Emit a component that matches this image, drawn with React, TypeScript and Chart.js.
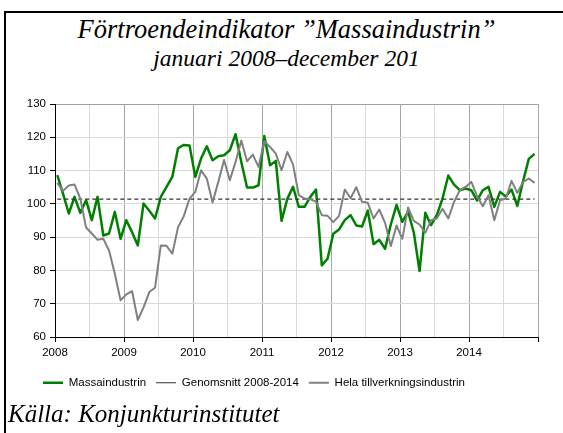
import React, { useEffect, useRef } from 'react';
import { Chart, registerables } from 'chart.js';

Chart.register(...registerables);

// ---- Data (monthly, January 2008 – December 2014) ----
const yearLabels = ['2008', '2009', '2010', '2011', '2012', '2013', '2014'];

const massaindustrin = [
  108.6, 103.0, 97.1, 102.1, 97.3, 101.1, 95.1, 102.1, 90.5, 91.1, 97.6, 89.5,
  95.1, 91.5, 87.5, 100.1, 97.9, 95.6, 102.1, 105.1, 108.1, 116.7, 117.7, 117.5,
  108.1, 113.6, 117.3, 113.1, 114.3, 114.6, 116.1, 120.9, 112.6, 104.9, 104.9, 105.6,
  120.4, 111.6, 112.9, 94.9, 101.5, 105.1, 99.1, 99.1, 102.1, 104.3, 81.5, 83.5,
  91.0, 92.3, 95.1, 96.6, 93.5, 93.2, 98.0, 87.9, 89.2, 86.5, 93.8, 99.7,
  94.6, 97.7, 91.4, 79.8, 97.3, 93.6, 96.6, 101.6, 108.5, 105.8, 104.1, 104.6,
  104.1, 101.0, 104.1, 105.1, 99.1, 103.6, 102.2, 104.3, 99.4, 106.8, 113.5, 115.0,
];

const helaTillverkningsindustrin = [
  106.3, 103.9, 105.5, 105.8, 101.6, 92.9, 91.1, 89.2, 89.5, 86.0, 79.0, 71.0,
  72.8, 73.8, 65.1, 68.9, 73.5, 74.8, 87.5, 87.4, 85.0, 93.0, 96.3, 101.6,
  103.6, 110.1, 107.6, 100.4, 106.6, 113.2, 107.1, 112.6, 119.0, 112.8, 114.8, 111.1,
  118.8, 117.1, 115.1, 110.1, 115.6, 111.8, 102.6, 101.6, 101.4, 100.6, 96.6, 96.4,
  94.5, 96.4, 104.3, 101.7, 105.0, 100.6, 100.3, 95.6, 98.3, 94.3, 87.3, 93.5,
  89.5, 98.9, 94.9, 93.8, 91.3, 95.1, 95.6, 98.5, 95.6, 100.6, 104.1, 105.1,
  106.6, 102.3, 99.3, 102.6, 95.1, 101.1, 101.6, 106.9, 103.3, 106.6, 107.6, 106.3,
];

const genomsnitt = 101.4; // Genomsnitt 2008-2014

const yMin = 60;
const yMax = 130;
const yStep = 10;

const seriesLabels = ['Massaindustrin', 'Genomsnitt 2008-2014', 'Hela tillverkningsindustrin'];

// Moves the (start-aligned) legend so that it begins at a chosen x position.
const legendShift = {
  id: 'legendShift',
  afterLayout(chart: any, _args: any, opts: any) {
    const lg = chart.legend;
    if (!lg) return;
    const w = lg.right - lg.left;
    lg.left = opts.left;
    lg.right = opts.left + w;
  },
};

export default function App() {
  const canvasRef = useRef<HTMLCanvasElement | null>(null);

  useEffect(() => {
    const canvas = canvasRef.current;
    if (!canvas) return;
    const monthOffset = 0.4;
    const toPoints = (arr: number[]) => arr.map((v, i) => ({ x: i + monthOffset, y: v }));
    const nMonths = massaindustrin.length;
    const axisFont = { family: "'Liberation Sans', Arial, sans-serif", size: 11.5 };

    const chart = new Chart(canvas, {
      type: 'line',
      plugins: [legendShift],
      data: {
        datasets: [
          {
            label: seriesLabels[0],
            data: toPoints(massaindustrin),
            borderColor: '#008000',
            backgroundColor: '#008000',
            borderWidth: 2.5,
            pointRadius: 0,
            borderJoinStyle: 'round',
            fill: false,
            order: 3,
          },
          {
            label: seriesLabels[1],
            data: [
              { x: monthOffset, y: genomsnitt },
              { x: nMonths - 1 + monthOffset, y: genomsnitt },
            ],
            borderColor: '#303030',
            backgroundColor: '#303030',
            borderWidth: 1.2,
            borderDash: [4, 3],
            pointRadius: 0,
            fill: false,
            order: 2,
          },
          {
            label: seriesLabels[2],
            data: toPoints(helaTillverkningsindustrin),
            borderColor: '#808080',
            backgroundColor: '#808080',
            borderWidth: 2,
            pointRadius: 0,
            borderJoinStyle: 'round',
            fill: false,
            order: 1,
          },
        ],
      },
      options: {
        animation: false,
        responsive: false,
        maintainAspectRatio: false,
        layout: { padding: { left: 20, top: 104, right: 25, bottom: 34.5 } },
        plugins: {
          title: { display: false },
          tooltip: { enabled: false },
          legendShift: { left: 33 },
          legend: {
            position: 'bottom',
            align: 'start',
            labels: {
              usePointStyle: true,
              pointStyle: 'line',
              pointStyleWidth: 20,
              padding: 10,
              color: '#000',
              font: axisFont,
              sort: (a: any, b: any) => a.datasetIndex - b.datasetIndex,
            },
          },
        },
        scales: {
          x: {
            type: 'linear',
            min: 0,
            max: nMonths,
            afterFit: (s: any) => {
              s.height = 30;
            },
            ticks: {
              stepSize: 6,
              autoSkip: false,
              maxRotation: 0,
              padding: 4,
              color: '#000',
              font: axisFont,
              callback: (v: any) => {
                const n = Number(v);
                if (n % 12 !== 0) return '';
                const idx = n / 12;
                return idx < yearLabels.length ? yearLabels[idx] : '';
              },
            },
            grid: {
              color: (ctx: any) => (ctx.tick && ctx.tick.value % 12 === 0 ? '#a6a6a6' : '#d9d9d9'),
              tickColor: (ctx: any) => (ctx.tick && ctx.tick.value % 12 === 0 ? '#000' : 'rgba(0,0,0,0)'),
              tickLength: 5,
              lineWidth: 1,
            },
            border: { color: '#000', width: 1 },
          },
          y: {
            min: yMin,
            max: yMax,
            afterFit: (s: any) => {
              s.width = 35;
            },
            ticks: {
              stepSize: yStep,
              padding: 4,
              color: '#000',
              font: axisFont,
            },
            grid: {
              color: (ctx: any) => (ctx.tick && ctx.tick.value === yMax ? '#a0a0a0' : '#d9d9d9'),
              tickColor: '#000',
              tickLength: 5,
              lineWidth: 1,
            },
            border: { color: '#000', width: 1 },
          },
        },
      },
    } as any);

    return () => chart.destroy();
  }, []);

  const serif = "'Liberation Serif', 'Times New Roman', serif";

  return (
    <div
      style={{
        position: 'fixed',
        left: 0,
        top: 0,
        width: 563,
        height: 433,
        background: '#fff',
        overflow: 'hidden',
      }}
    >
      <div
        style={{
          position: 'absolute',
          left: 4,
          top: 11,
          right: 0,
          bottom: 0,
          borderTop: '2px solid #000',
          borderLeft: '2px solid #000',
        }}
      />
      <div
        style={{
          position: 'absolute',
          left: 10,
          right: 0,
          top: 14,
          textAlign: 'center',
          fontFamily: serif,
          fontStyle: 'italic',
          color: '#000',
          whiteSpace: 'nowrap',
        }}
      >
        <div style={{ fontSize: 26.5, lineHeight: '30px' }}>Förtroendeindikator ”Massaindustrin”</div>
        <div style={{ fontSize: 23.5, lineHeight: '29px' }}>januari 2008–december 201</div>
      </div>
      <canvas
        ref={canvasRef}
        width={563}
        height={433}
        style={{ position: 'absolute', left: 0, top: 0, width: 563, height: 433 }}
      />
      <div
        style={{
          position: 'absolute',
          left: 8,
          top: 400,
          fontFamily: serif,
          fontStyle: 'italic',
          fontSize: 25,
          lineHeight: '28px',
          color: '#000',
          whiteSpace: 'nowrap',
        }}
      >
        Källa: Konjunkturinstitutet
      </div>
    </div>
  );
}
